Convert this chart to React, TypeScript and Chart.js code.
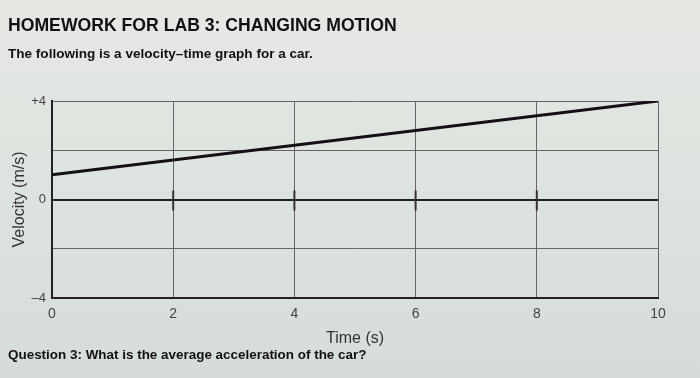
import React, { useEffect, useRef } from "react";
import { Chart, registerables } from "chart.js";

Chart.register(...registerables);

const times = [0, 10];
const velocities = [1, 4];
const xTicks = [0, 2, 4, 6, 8, 10];
const yTickLabels: Record<string, string> = { "4": "+4", "0": "0", "-4": "\u20134" };

const titleText = "HOMEWORK FOR LAB 3: CHANGING MOTION";
const subtitleText = "The following is a velocity\u2013time graph for a car.";
const questionText = "Question 3: What is the average acceleration of the car?";

const FONT = "'Liberation Sans', Arial, sans-serif";

function fitText(ctx: any, text: string, x: number, y: number, width: number, size: number) {
  ctx.font = `bold ${size}px ${FONT}`;
  const w = ctx.measureText(text).width;
  const s = (size * width) / w;
  ctx.font = `bold ${s}px ${FONT}`;
  ctx.fillText(text, x, y);
}

const textPlugin = {
  id: "pageText",
  beforeDraw(chart: any) {
    const ctx = chart.ctx;
    ctx.save();
    const g = ctx.createLinearGradient(0, 0, 0, chart.height);
    g.addColorStop(0, "#e6e8e4");
    g.addColorStop(0.5, "#dde3de");
    g.addColorStop(1, "#d6ddd8");
    ctx.fillStyle = g;
    ctx.fillRect(0, 0, chart.width, chart.height);
    ctx.restore();
  },
  afterDraw(chart: any) {
    const ctx = chart.ctx;
    ctx.save();
    ctx.fillStyle = "#111";
    ctx.textBaseline = "middle";
    ctx.textAlign = "left";
    fitText(ctx, titleText, 8, 26, 389, 17.5);
    fitText(ctx, subtitleText, 8, 54, 305, 13);
    fitText(ctx, questionText, 8, 355, 359, 13);
    const xs = chart.scales.x;
    const ys = chart.scales.y;
    ctx.strokeStyle = "#333";
    ctx.lineWidth = 2;
    [2, 4, 6, 8].forEach((t) => {
      const px = xs.getPixelForValue(t);
      const py = ys.getPixelForValue(0);
      ctx.beginPath();
      ctx.moveTo(px, py - 9);
      ctx.lineTo(px, py + 11);
      ctx.stroke();
    });
    ctx.restore();
  },
};

export default function App() {
  const ref = useRef<HTMLCanvasElement>(null);
  useEffect(() => {
    document.body.style.margin = "0";
    const chart = new Chart(ref.current!, {
      type: "line",
      data: {
        datasets: [
          {
            data: times.map((t, i) => ({ x: t, y: velocities[i] })),
            borderColor: "#111",
            borderWidth: 3,
            pointRadius: 0,
            fill: false,
          },
        ],
      },
      options: {
        animation: false,
        responsive: false,
        layout: { padding: { left: 0, right: 42, top: 101, bottom: 30 } },
        plugins: { legend: { display: false }, tooltip: { enabled: false }, title: { display: false } },
        scales: {
          x: {
            type: "linear",
            min: 0,
            max: 10,
            afterBuildTicks: (s: any) => {
              s.ticks = xTicks.map((v) => ({ value: v }));
            },
            afterFit: (s: any) => {
              s.height = 50;
            },
            ticks: {
              color: "#444",
              font: { family: FONT, size: 14 },
              padding: 8,
              maxRotation: 0,
            },
            grid: {
              color: "#666",
              lineWidth: 1,
              drawTicks: false,
            },
            border: { color: "#222", width: 2 },
            title: {
              display: true,
              text: "Time (s)",
              color: "#333",
              font: { family: FONT, size: 16 },
              padding: { top: 0, bottom: 0 },
            },
          },
          y: {
            type: "linear",
            min: -4,
            max: 4,
            ticks: {
              stepSize: 2,
              color: "#444",
              font: { family: FONT, size: 13 },
              padding: 6,
              callback: (v: any) => yTickLabels[String(v)] ?? "",
            },
            afterFit: (s: any) => {
              s.width = 52;
            },
            grid: {
              color: (c: any) => (c.tick && c.tick.value === 0 ? "#222" : "#666"),
              lineWidth: (c: any) => (c.tick && c.tick.value === 0 ? 2 : 1),
              drawTicks: false,
            },
            border: { color: "#222", width: 2 },
            title: {
              display: true,
              text: "Velocity (m/s)",
              color: "#333",
              font: { family: FONT, size: 16 },
              padding: { top: 10, bottom: 0 },
            },
          },
        },
      },
      plugins: [textPlugin],
    } as any);
    return () => chart.destroy();
  }, []);
  return <canvas ref={ref} width={700} height={378} style={{ display: "block" }} />;
}
